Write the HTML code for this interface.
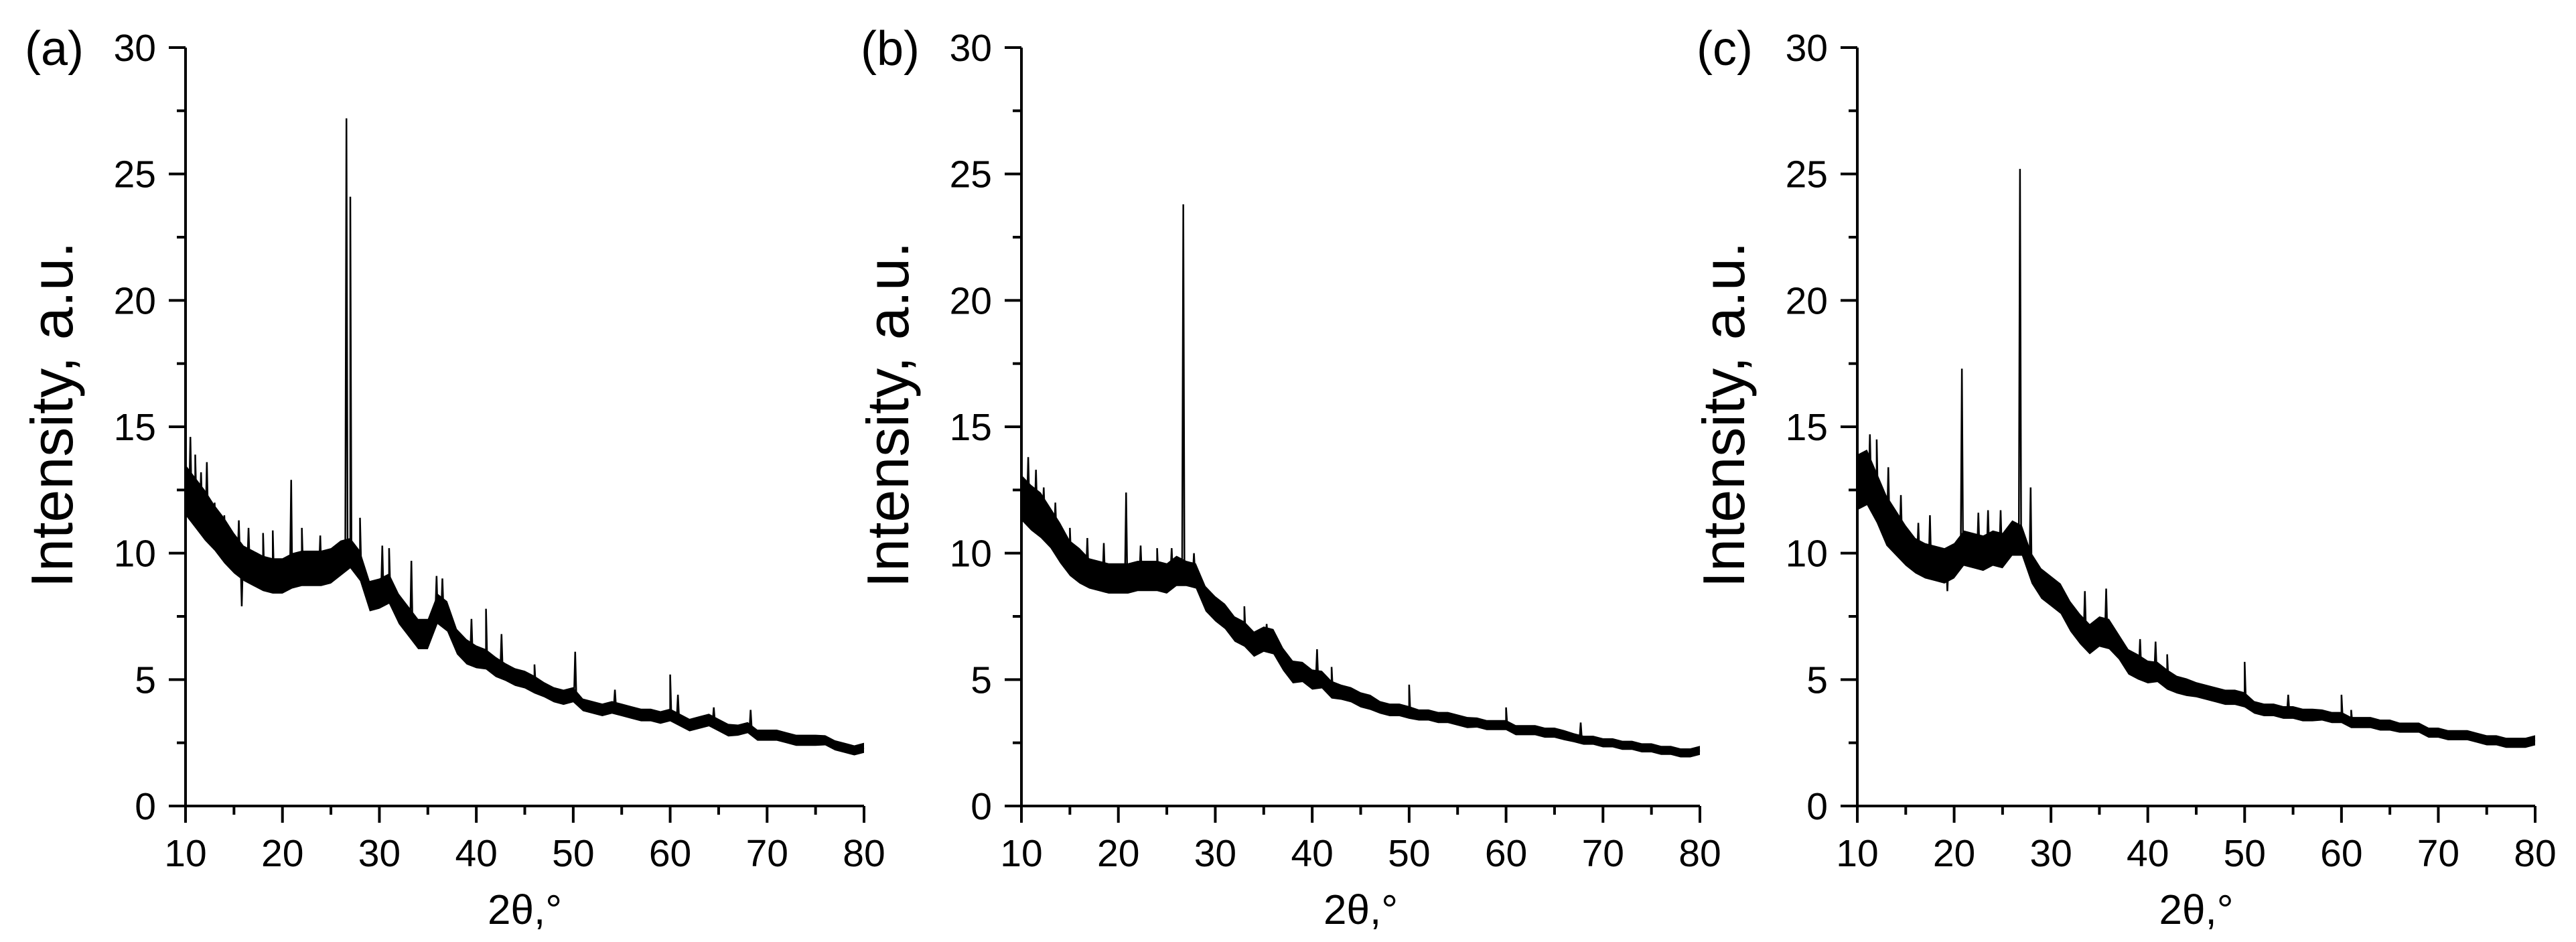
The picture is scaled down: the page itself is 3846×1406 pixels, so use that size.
<!DOCTYPE html>
<html><head><meta charset="utf-8"><style>
html,body{margin:0;padding:0;background:#fff}
svg{display:block}
text{font-family:"Liberation Sans",Arial,sans-serif;fill:#000}
</style></head><body>
<svg id="chart" width="3846" height="1406" viewBox="0 0 3846 1406" xmlns="http://www.w3.org/2000/svg"></svg>
<script>
// ---- data ----
const xCategories = [10,11,12,13,14,15,16,17,18,19,20,21,22,23,24,25,26,27,28,29,30,31,32,33,34,35,36,37,38,39,40,41,42,43,44,45,46,47,48,49,50,51,52,53,54,55,56,57,58,59,60,61,62,63,64,65,66,67,68,69,70,71,72,73,74,75,76,77,78,79,80];
const meanA = [12.5,12,11.5,11,10.5,10,9.6,9.4,9.2,9.1,9.1,9.3,9.4,9.4,9.4,9.5,9.8,10,9.5,8.3,8.4,8.6,7.8,7.3,6.8,6.8,7.8,7.5,6.5,6.1,5.9,5.8,5.5,5.3,5.1,5.0,4.8,4.6,4.4,4.3,4.4,4.0,3.9,3.8,3.9,3.8,3.7,3.6,3.6,3.5,3.6,3.4,3.2,3.3,3.4,3.2,3.0,3.0,3.1,2.8,2.8,2.8,2.7,2.6,2.6,2.6,2.6,2.4,2.3,2.2,2.3];
const meanB = [12.2,11.8,11.5,11,10.4,9.8,9.5,9.2,9.1,9.0,9.0,9.0,9.1,9.1,9.1,9.0,9.3,9.2,9.1,8.2,7.8,7.5,7.0,6.8,6.4,6.6,6.5,5.8,5.3,5.3,5.0,5.0,4.6,4.5,4.4,4.2,4.1,3.9,3.8,3.8,3.7,3.6,3.6,3.5,3.5,3.4,3.3,3.3,3.2,3.2,3.2,3.0,3.0,3.0,2.9,2.9,2.8,2.7,2.6,2.6,2.5,2.5,2.4,2.4,2.3,2.3,2.2,2.2,2.1,2.1,2.2];
const meanC = [12.8,13.0,12.2,11.3,10.8,10.3,9.9,9.7,9.6,9.5,9.7,10.2,10.1,10.0,10.2,10.1,10.6,10.5,9.4,8.8,8.5,8.2,7.5,7.0,6.6,6.9,6.8,6.3,5.7,5.5,5.3,5.3,5.0,4.8,4.7,4.6,4.5,4.4,4.3,4.3,4.2,3.9,3.8,3.8,3.7,3.7,3.6,3.6,3.6,3.5,3.5,3.3,3.3,3.3,3.2,3.2,3.1,3.1,3.1,2.9,2.9,2.8,2.8,2.8,2.7,2.6,2.6,2.5,2.5,2.5,2.6];
const spreadA = [1.0,1.0,1.0,0.9,0.9,0.8,0.7,0.7,0.7,0.7,0.7,0.7,0.7,0.7,0.7,0.7,0.7,0.6,0.6,0.6,0.6,0.6,0.6,0.6,0.6,0.6,0.6,0.6,0.5,0.5,0.45,0.4,0.4,0.35,0.35,0.35,0.35,0.3,0.3,0.3,0.3,0.25,0.25,0.25,0.25,0.25,0.25,0.25,0.25,0.25,0.25,0.25,0.25,0.25,0.25,0.25,0.25,0.22,0.22,0.22,0.22,0.22,0.22,0.22,0.22,0.22,0.2,0.2,0.2,0.2,0.2];
const spreadB = [0.9,0.9,0.9,0.8,0.8,0.7,0.7,0.6,0.6,0.6,0.6,0.6,0.6,0.6,0.6,0.6,0.6,0.5,0.5,0.5,0.5,0.5,0.5,0.5,0.5,0.5,0.5,0.45,0.45,0.4,0.4,0.35,0.35,0.3,0.3,0.3,0.3,0.25,0.25,0.25,0.25,0.22,0.22,0.22,0.22,0.22,0.22,0.2,0.2,0.2,0.2,0.2,0.2,0.2,0.2,0.2,0.2,0.18,0.18,0.18,0.18,0.18,0.18,0.18,0.18,0.18,0.18,0.18,0.18,0.18,0.18];
const spreadC = [1.1,1.1,1.0,1.0,0.9,0.8,0.7,0.7,0.7,0.7,0.7,0.7,0.7,0.7,0.7,0.7,0.7,0.6,0.6,0.6,0.6,0.6,0.6,0.6,0.6,0.6,0.6,0.5,0.5,0.5,0.45,0.4,0.4,0.35,0.35,0.3,0.3,0.3,0.3,0.3,0.3,0.25,0.25,0.25,0.25,0.25,0.25,0.25,0.22,0.22,0.22,0.22,0.22,0.22,0.22,0.22,0.2,0.2,0.2,0.2,0.2,0.2,0.2,0.2,0.2,0.2,0.2,0.2,0.2,0.2,0.2];
const peakPosA = [10.5,11.0,11.6,12.2,13.0,14.0,15.5,15.8,16.5,18.0,19.0,20.9,22.0,23.9,26.6,27.0,28.0,30.3,31.0,33.3,35.9,36.5,39.5,41.0,42.6,46.0,50.2,54.3,60.0,60.8,64.5,68.3];
const peakValA = [14.6,13.9,13.2,13.6,12.0,11.5,11.3,7.9,11.0,10.8,10.9,12.9,11.0,10.7,27.2,24.1,11.4,10.3,10.2,9.7,9.1,9.0,7.4,7.8,6.8,5.6,6.1,4.6,5.2,4.4,3.9,3.8];
const peakPosB = [10.7,11.5,12.3,13.5,15.0,16.8,18.5,20.8,22.3,24.0,25.5,26.7,27.8,33.0,35.3,36.0,39.0,40.5,42.0,50.0,60.0,67.7];
const peakValB = [13.8,13.3,12.6,12.0,11.0,10.6,10.4,12.4,10.3,10.2,10.2,23.8,10.0,7.9,7.2,6.8,5.6,6.2,5.5,4.8,3.9,3.3];
const peakPosC = [10.8,11.3,12.0,13.2,14.5,16.3,17.5,19.3,20.8,22.5,23.5,24.8,26.2,26.8,27.9,33.5,35.7,39.2,40.8,42.0,50.0,54.5,60.0,61.0];
const peakValC = [14.0,14.7,14.5,13.4,12.3,11.2,11.5,8.5,17.3,11.6,11.7,11.7,11.2,25.2,12.6,8.5,8.6,6.6,6.5,6.0,5.7,4.4,4.4,3.8];
const yTickLabels = ["0","5","10","15","20","25","30"];
const xTickLabels = ["10","20","30","40","50","60","70","80"];
const panelLabels = ["(a)","(b)","(c)"];

// ---- layout ----
const NS = "http://www.w3.org/2000/svg";
const svg = document.getElementById("chart");
const panels = [
  {x0:277, x1:1290, mean:meanA, spread:spreadA, pp:peakPosA, pv:peakValA},
  {x0:1525, x1:2538, mean:meanB, spread:spreadB, pp:peakPosB, pv:peakValB},
  {x0:2773, x1:3785, mean:meanC, spread:spreadC, pp:peakPosC, pv:peakValC}
];
const yTop = 71, yBot = 1203;
function mk(tag, attrs, parent){ const e=document.createElementNS(NS,tag); for(const k in attrs) e.setAttribute(k,attrs[k]); (parent||svg).appendChild(e); return e; }
function interp(arr, x){ const i=Math.min(Math.floor(x-10),69); const t=x-10-i; return arr[i]*(1-t)+arr[i+1]*t; }

panels.forEach((p, pi) => {
  const sx = v => p.x0 + (v-10)/70*(p.x1-p.x0);
  const sy = v => yBot - v/30*(yBot-yTop);
  const g = mk("g", {});
  
  

  let up = [], lo = [];
  xCategories.forEach((c,i) => { up.push(sx(c)+","+sy(p.mean[i]+p.spread[i])); lo.unshift(sx(c)+","+sy(p.mean[i]-p.spread[i])); });
  const band = mk("polygon", {points: up.concat(lo).join(" "), fill:"#000"}, g);
  
  

  let pts = xCategories.map((c,i)=>[c,p.mean[i]]);
  p.pp.forEach((pos,k) => { const b = interp(p.mean,pos); pts.push([pos-0.12,b]); pts.push([pos,p.pv[k]]); pts.push([pos+0.12,b]); });
  pts.sort((a,b)=>a[0]-b[0]);
  const line = mk("polyline", {points: pts.map(q=>sx(Math.max(10,Math.min(80,q[0])))+","+sy(q[1])).join(" "), fill:"none", stroke:"#000", "stroke-width":"2.5", "stroke-linejoin":"miter"}, g);
  
  

  const ax = mk("path", {d:`M${p.x0},${yTop} L${p.x0},${yBot} L${p.x1},${yBot}`, fill:"none", stroke:"#000", "stroke-width":"4"}, g);
  
  
  for (let v=0; v<=30; v+=2.5) {
    const major = v%5===0; const y = sy(v);
    const t = mk("line", {x1:p.x0-(major?25:13), x2:p.x0, y1:y, y2:y, stroke:"#000", "stroke-width":"4"}, g);
    
    
  }
  yTickLabels.forEach((lab,i) => {
    const t = mk("text", {x:p.x0-44, y:sy(Number(lab))+20, "font-size":"57", "text-anchor":"end"}, g);
    t.textContent = lab;
    
    
  });
  for (let v=10; v<=80; v+=5) {
    const major = v%10===0; const x = sx(v);
    const t = mk("line", {x1:x, x2:x, y1:yBot, y2:yBot+(major?25:13), stroke:"#000", "stroke-width":"4"}, g);
    
    
  }
  xTickLabels.forEach(lab => {
    const t = mk("text", {x:sx(Number(lab)), y:1293, "font-size":"57", "text-anchor":"middle"}, g);
    t.textContent = lab;
    
    
  });
  const xt = mk("text", {x:(p.x0+p.x1)/2, y:1379, "font-size":"62", "text-anchor":"middle"}, g);
  xt.textContent = "2θ,°";
  
  
  const yx = p.x0-169;
  const yt = mk("text", {x:yx, y:619, "font-size":"88", "text-anchor":"middle", transform:`rotate(-90 ${yx} 619)`}, g);
  yt.textContent = "Intensity, a.u.";
  
  
  const pl = mk("text", {x:p.x0-240, y:97, "font-size":"72"}, g);
  pl.textContent = panelLabels[pi];
  
  
});
</script>
</body></html>
